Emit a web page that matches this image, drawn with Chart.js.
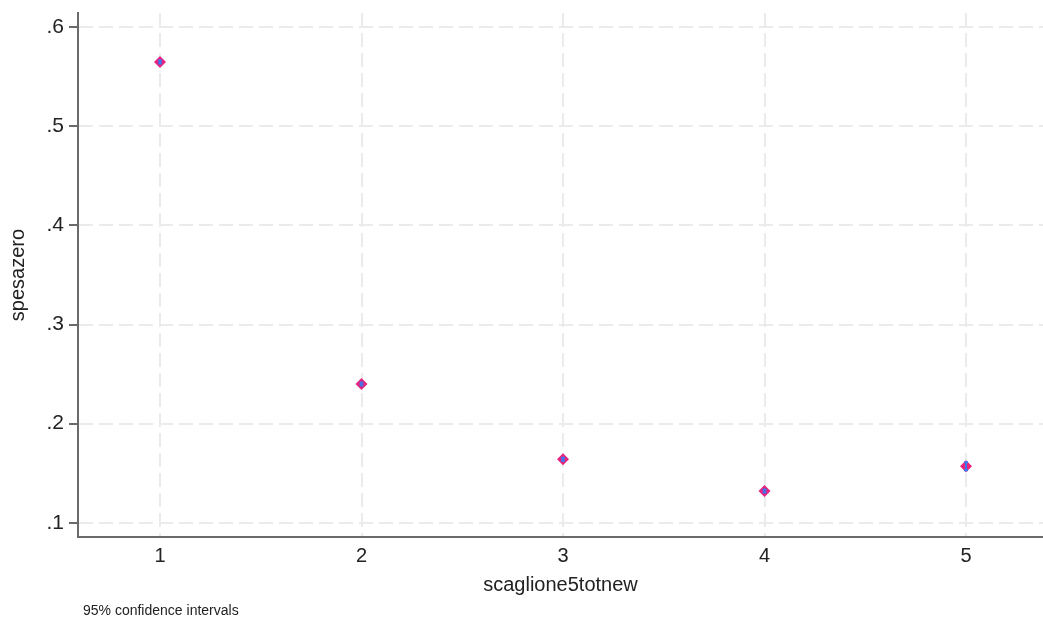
<!DOCTYPE html>
<html>
<head>
<meta charset="utf-8">
<script src="https://cdn.jsdelivr.net/npm/chart.js@4"></script>
<style>
    html, body { margin: 0; padding: 0; background: #fff; }
    #wrap { width: 1043px; height: 622px; position: relative; }
</style>
</head>
<body>
<div id="wrap"><canvas id="margins-chart"></canvas></div>
<script>
// scaglione levels and predicted spesazero with 95% CI
const levels = [1, 2, 3, 4, 5];
const margins = [0.565, 0.240, 0.164, 0.132, 0.157];
const ciLow = [0.5635, 0.2385, 0.1625, 0.1305, 0.153];
const ciHigh = [0.5665, 0.2415, 0.1655, 0.1335, 0.161];
const yTicks = [0.1, 0.2, 0.3, 0.4, 0.5, 0.6];
const yTickLabels = ['.1', '.2', '.3', '.4', '.5', '.6'];

const FONT = "'Liberation Sans', Arial, sans-serif";

// draws the confidence interval spikes over the markers
const ciPlugin = {
    id: 'ciSpikes',
    afterDatasetsDraw(chart) {
        const ctx = chart.ctx;
        const x = chart.scales.x;
        const y = chart.scales.y;
        ctx.save();
        ctx.strokeStyle = '#3a78f0';
        ctx.lineWidth = 2;
        levels.forEach((lv, i) => {
            const px = x.getPixelForValue(lv);
            const top = y.getPixelForValue(ciHigh[i]);
            const bot = y.getPixelForValue(ciLow[i]);
            ctx.beginPath();
            ctx.moveTo(px, top);
            ctx.lineTo(px, bot);
            ctx.moveTo(px - 2, top);
            ctx.lineTo(px + 2, top);
            ctx.moveTo(px - 2, bot);
            ctx.lineTo(px + 2, bot);
            ctx.stroke();
        });
        ctx.restore();
    }
};

// note under the chart
const notePlugin = {
    id: 'note',
    afterDraw(chart) {
        const ctx = chart.ctx;
        ctx.save();
        ctx.fillStyle = '#222';
        ctx.font = '14px ' + FONT;
        ctx.textBaseline = 'middle';
        ctx.fillText('95% confidence intervals', 83, 611);
        ctx.restore();
    }
};

const ctx = document.getElementById('margins-chart').getContext('2d');
new Chart(ctx, {
    type: 'scatter',
    data: {
        datasets: [{
            label: 'spesazero',
            data: levels.map((lv, i) => ({ x: lv, y: margins[i] })),
            pointStyle: 'rectRot',
            pointRadius: 6,
            backgroundColor: '#e8237e',
            borderColor: '#e8237e',
            borderWidth: 0
        }]
    },
    options: {
        responsive: true,
        maintainAspectRatio: false,
        animation: false,
        layout: { autoPadding: false, padding: { top: 13, right: 0, bottom: 25, left: 0 } },
        plugins: {
            legend: { display: false },
            tooltip: { enabled: false }
        },
        scales: {
            x: {
                type: 'linear',
                min: 0.593,
                max: 5.382,
                afterBuildTicks(scale) {
                    scale.ticks = levels.map(v => ({ value: v }));
                },
                afterFit(scale) {
                    scale.height = 60;
                    scale.paddingLeft = 0;
                    scale.paddingRight = 0;
                },
                ticks: {
                    color: '#222',
                    font: { family: FONT, size: 20 },
                    padding: 7
                },
                grid: {
                    color: '#ebebeb',
                    lineWidth: 2,
                    drawTicks: false
                },
                border: { color: '#6a6a6a', width: 2, dash: [14, 6] },
                title: {
                    display: true,
                    text: 'scaglione5totnew',
                    color: '#222',
                    font: { family: FONT, size: 20 },
                    padding: 0
                }
            },
            y: {
                min: 0.0856,
                max: 0.6144,
                afterBuildTicks(scale) {
                    scale.ticks = yTicks.map(v => ({ value: v }));
                },
                afterFit(scale) {
                    scale.width = 78;
                    scale.paddingTop = 0;
                    scale.paddingBottom = 0;
                },
                ticks: {
                    color: '#222',
                    font: { family: FONT, size: 21 },
                    padding: 5,
                    callback: (v) => yTickLabels[yTicks.findIndex(t => Math.abs(t - v) < 1e-9)]
                },
                grid: {
                    color: '#ebebeb',
                    lineWidth: 2,
                    tickLength: 9,
                    tickColor: '#6a6a6a',
                    tickWidth: 2,
                    tickBorderDash: []
                },
                border: { color: '#6a6a6a', width: 2, dash: [14, 6] },
                title: {
                    display: true,
                    text: 'spesazero',
                    color: '#222',
                    font: { family: FONT, size: 20 },
                    padding: { top: 6, bottom: 0 }
                }
            }
        }
    },
    plugins: [ciPlugin, notePlugin]
});
</script>
</body>
</html>
